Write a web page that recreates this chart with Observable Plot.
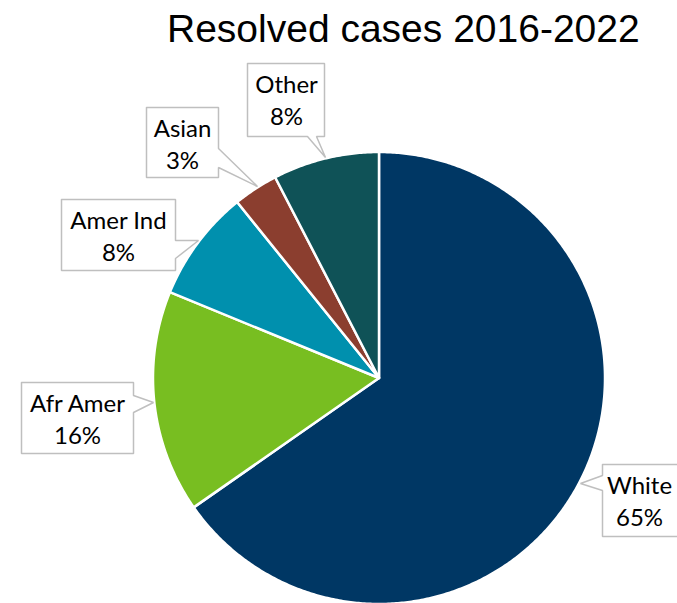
<!DOCTYPE html>
<html>
<head>
<meta charset="utf-8">
<script src="https://cdn.jsdelivr.net/npm/d3@7"></script>
<script src="https://cdn.jsdelivr.net/npm/@observablehq/plot@0.6"></script>
<style>
  html, body { margin: 0; padding: 0; background: #fff; }
  #wrap { width: 677px; height: 603px; position: relative; overflow: hidden; }
  #title { position: absolute; left: 167px; top: 6px; font-family: "Liberation Sans", Arial, sans-serif; font-size: 39px; line-height: 45px; color: #000; white-space: nowrap; }
  #chart { position: absolute; left: 0; top: 50px; }
</style>
</head>
<body>
<div id="wrap">
  <div id="title">Resolved cases 2016-2022</div>
  <div id="chart"></div>
</div>
<script>
// ---- data ----
const categories = ["White", "Afr Amer", "Amer Ind", "Asian", "Other"];
const values = [65.3, 15.9, 8.0, 3.2, 7.6];
const colors = ["#003764", "#78be21", "#0090ae", "#8b3e2f", "#0f5257"];

// ---- layout (pixel positions of pie and callouts) ----
const pie = { cx: 379, cy: 378, r: 226 };
const callouts = {
  "White":    { tx: 639, top: 464, pts: [[602,464],[680,464],[680,536],[602,536],[602,490],[580,483],[602,475],[602,464]] },
  "Afr Amer": { tx: 77,  top: 382, pts: [[21,382],[133,382],[133,395],[153,402],[133,412],[133,453],[21,453],[21,382]] },
  "Amer Ind": { tx: 118, top: 199, pts: [[61,199],[175,199],[175,240],[198,240],[175,258],[175,270],[61,270],[61,199]] },
  "Asian":    { tx: 182, top: 107, pts: [[146,107],[218,107],[218,148],[257,186],[218,167],[218,177],[146,177],[146,107]] },
  "Other":    { tx: 286, top: 63,  pts: [[247,63],[324,63],[324,136],[316,136],[325,157],[307,136],[247,136],[247,63]] }
};
const fs = 24;

const rows = categories.map((c, i) => ({ cat: c, value: values[i] }));
const total = d3.sum(values);
const arcs = d3.pie().sort(null).value(d => d.value)(rows);

// slice outlines: arc points paired with the centre
const slicePts = [];
for (const a of arcs) {
  const n = Math.max(2, Math.ceil((a.endAngle - a.startAngle) / (Math.PI / 360)));
  for (let k = 0; k <= n; k++) {
    const t = a.startAngle + (a.endAngle - a.startAngle) * k / n;
    slicePts.push({ cat: a.data.cat, x1: pie.cx + pie.r * Math.sin(t), y1: pie.cy - pie.r * Math.cos(t), x2: pie.cx, y2: pie.cy });
  }
}

const boxPts = [];
for (const c of categories) for (const [x, y] of callouts[c].pts) boxPts.push({ cat: c, x, y });

const labels = rows.map(d => ({
  cat: d.cat,
  pct: Math.round(d.value / total * 100) + "%",
  x: callouts[d.cat].tx,
  y1: callouts[d.cat].top + 29 - 0.32 * fs,
  y2: callouts[d.cat].top + 61 - 0.32 * fs
}));

const chart = Plot.plot({
  width: 677,
  height: 553,
  margin: 0,
  x: { domain: [0, 677], range: [0, 677], axis: null },
  y: { domain: [50, 603], range: [0, 553], axis: null },
  color: { domain: categories, range: colors },
  style: { background: "transparent" },
  marks: [
    Plot.area(slicePts, { x1: "x1", y1: "y1", x2: "x2", y2: "y2", z: "cat", fill: "cat", stroke: "white", strokeWidth: 2.5, strokeLinejoin: "round", curve: "linear" }),
    Plot.line(boxPts, { x: "x", y: "y", z: "cat", fill: "white", stroke: "#bfbfbf", strokeWidth: 1.5, strokeLinejoin: "miter", curve: "linear" }),
    Plot.text(labels, { x: "x", y: "y1", text: "cat", fontSize: fs, fontFamily: "Lato, 'Noto Sans', sans-serif", fill: "#000", textAnchor: "middle" }),
    Plot.text(labels, { x: "x", y: "y2", text: "pct", fontSize: fs, fontFamily: "Lato, 'Noto Sans', sans-serif", fill: "#000", textAnchor: "middle" })
  ]
});
document.getElementById("chart").appendChild(chart);
</script>
</body>
</html>
